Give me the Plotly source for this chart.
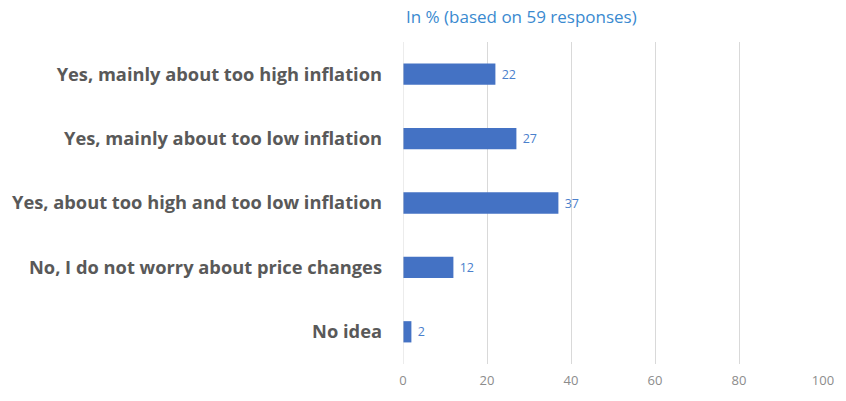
import plotly.graph_objects as go

categories = [
    "Yes, mainly about too high inflation",
    "Yes, mainly about too low inflation",
    "Yes, about too high and too low inflation",
    "No, I do not worry about price changes",
    "No idea",
]
values = [22, 27, 37, 12, 2]
x_ticks = [0, 20, 40, 60, 80, 100]
title_text = "In % (based on 59 responses)"

fig = go.Figure(go.Bar(
    y=categories,
    x=values,
    orientation="h",
    marker=dict(color="#4472C4", line=dict(width=0)),
    width=0.33,
    text=[" " + str(v) for v in values],
    textposition="outside",
    cliponaxis=False,
    textfont=dict(family="Open Sans", size=12.5, color="#4A80CC"),
))

fig.update_layout(
    width=846, height=401,
    margin=dict(l=403, r=14, t=42, b=29),
    paper_bgcolor="white", plot_bgcolor="white",
    showlegend=False,
    bargap=0.67,
    xaxis=dict(
        range=[0, 100], tickvals=x_ticks, showgrid=True, gridcolor="#D9D9D9",
        gridwidth=1, zeroline=False, showline=False,
        tickfont=dict(family="Open Sans", size=13, color="#8C8C8C"),
        ticks="", ticklabelstandoff=7,
    ),
    yaxis=dict(
        autorange="reversed", showgrid=False, zeroline=False, showline=False,
        tickfont=dict(family="Open Sans", size=18.3, color="#595959", weight="bold"),
        ticks="", ticklabelstandoff=20,
    ),
    annotations=[dict(
        text=title_text, xref="paper", yref="paper", x=0, y=1, xshift=1,
        yanchor="bottom", xanchor="left", yshift=12, showarrow=False,
        font=dict(family="Open Sans", size=17, color="#3A8AD0"),
    )],
)
fig.add_vline(x=0, line=dict(color="#D9D9D9", width=1))

fig.write_html("out.html")
